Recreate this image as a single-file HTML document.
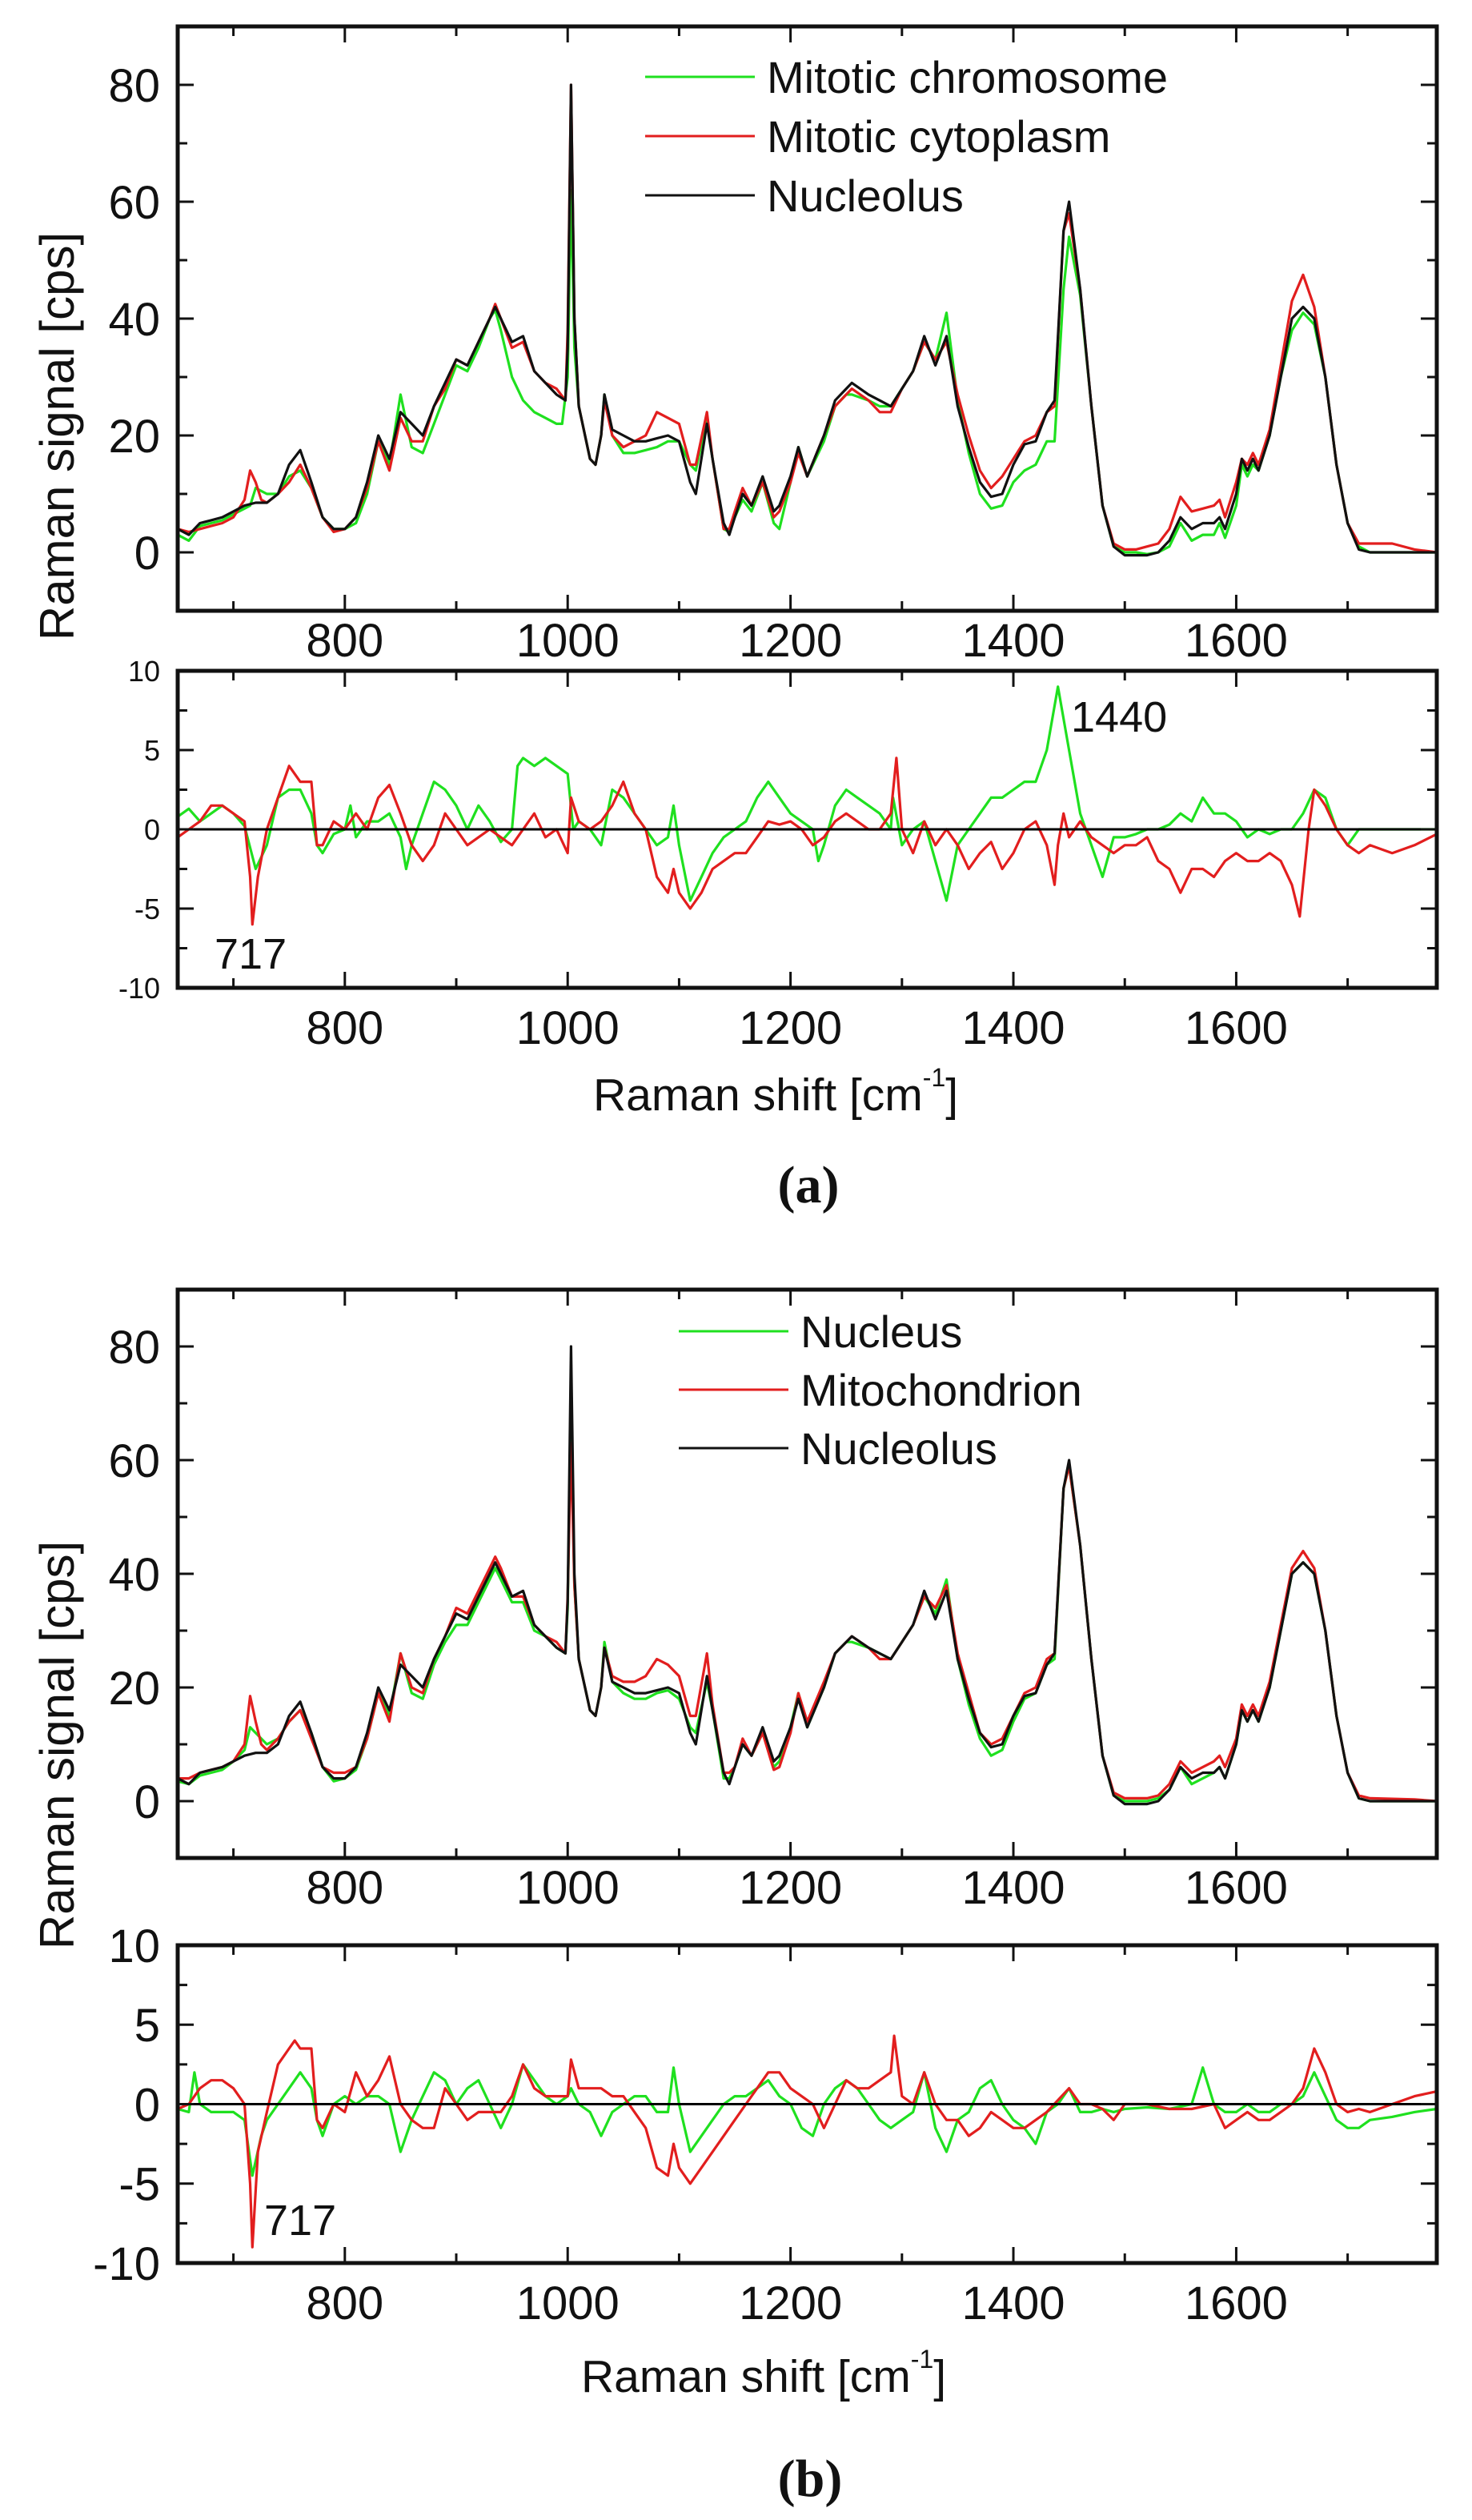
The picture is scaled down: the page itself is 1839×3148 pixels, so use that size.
<!DOCTYPE html>
<html><head><meta charset="utf-8">
<style>
html,body{margin:0;padding:0;background:#fff;}
svg{display:block;font-family:"Liberation Sans",sans-serif;}
</style></head>
<body>
<svg id="fig" width="1839" height="3148" viewBox="0 0 1839 3148" xmlns="http://www.w3.org/2000/svg"></svg>
<script>
// ---- Data (Raman shift cm-1, signal) ----
const xTicksMajor = [800,1000,1200,1400,1600];
const xTicksMinor = [700,900,1100,1300,1500,1700];
const yTicksSpec = [0,20,40,60,80];
const yTicksDiff = [-10,-5,0,5,10];

const nucleolus = [[650,4],[660,3],[670,5],[680,5.5],[690,6],[700,7],[710,8],[720,8.5],[730,8.5],[740,10],[750,15],[760,17.5],[770,12],[780,6],[790,4],[800,4],[810,6],[820,12],[830,20],[840,16],[850,24],[860,22],[870,20],[880,25],[890,29],[900,33],[910,32],[920,36],[930,40],[935,42],[940,40],[950,36],[960,37],[970,31],[980,29],[990,27],[998,26],[1000,35],[1003,80],[1006,40],[1010,25],[1020,16],[1025,15],[1030,20],[1033,27],[1040,21],[1050,20],[1060,19],[1070,19],[1080,19.5],[1090,20],[1100,19],[1110,12],[1115,10],[1125,22],[1130,16],[1140,5],[1145,3],[1150,6],[1157,10],[1165,8],[1175,13],[1185,7],[1190,8],[1200,13],[1207,18],[1215,13],[1230,20],[1240,26],[1250,28],[1255,29],[1270,27],[1280,26],[1290,25],[1300,28],[1310,31],[1320,37],[1330,32],[1340,37],[1350,25],[1360,18],[1370,12],[1380,9.5],[1390,10],[1400,15],[1410,18.5],[1420,19],[1430,24],[1437,26],[1445,55],[1450,60],[1460,45],[1470,25],[1480,8],[1490,1],[1500,-0.5],[1510,-0.5],[1520,-0.5],[1530,0],[1540,2],[1550,6],[1560,4],[1570,5],[1580,5],[1585,6],[1590,4],[1600,10],[1605,16],[1610,14],[1615,16],[1620,14],[1630,20],[1640,30],[1650,40],[1660,42],[1670,40],[1680,30],[1690,15],[1700,5],[1710,0.5],[1720,0],[1780,0]];

const chromosome = [[650,3],[660,2],[670,4.5],[680,5],[690,5.5],[700,6.5],[710,7.5],[715,8],[720,11],[730,10],[740,10],[750,13],[760,14],[770,11],[780,6],[790,4],[800,4],[810,5],[820,10],[830,19],[840,15],[850,27],[860,18],[870,17],[880,22],[890,27],[900,32],[910,31],[920,35],[930,40],[935,41.5],[940,38],[950,30],[960,26],[970,24],[980,23],[990,22],[995,22],[1000,30],[1003,62],[1006,35],[1010,25],[1020,16],[1025,15],[1030,20],[1033,27],[1040,20],[1050,17],[1060,17],[1070,17.5],[1080,18],[1090,19],[1100,19],[1110,15],[1115,14],[1125,23],[1130,16],[1140,4],[1145,3.5],[1150,6],[1157,9],[1165,7],[1175,12],[1185,5],[1190,4],[1200,12],[1207,18],[1215,13],[1230,19],[1240,25],[1250,27],[1255,27],[1270,26],[1280,25],[1290,25],[1300,28],[1310,31],[1320,36],[1330,33],[1340,41],[1350,26],[1360,17],[1370,10],[1380,7.5],[1390,8],[1400,12],[1410,14],[1420,15],[1430,19],[1437,19],[1445,45],[1450,54],[1460,44],[1470,25],[1480,8],[1490,1],[1500,0],[1510,0],[1520,-0.3],[1530,0],[1540,1],[1550,5],[1560,2],[1570,3],[1580,3],[1585,5],[1590,2.5],[1600,8],[1605,15],[1610,13],[1615,15],[1620,14],[1630,20],[1640,30],[1650,38],[1660,41],[1670,39],[1680,30],[1690,15],[1700,5],[1710,1],[1720,0],[1780,0]];

const cytoplasm = [[650,4],[660,3.5],[670,4],[680,4.5],[690,5],[700,6],[710,9],[715,14],[720,12],[725,9],[730,8.5],[740,10],[750,12],[760,15],[770,11],[780,6],[790,3.5],[800,4],[810,6],[820,11],[830,19],[840,14],[850,23],[860,19],[870,19],[880,25],[890,28],[900,33],[910,32],[920,36],[930,40],[935,42.5],[940,40],[950,35],[960,36],[970,31],[980,29],[990,28],[998,26],[1000,38],[1003,80],[1006,40],[1010,25],[1020,16],[1025,15],[1030,20],[1033,26],[1040,20],[1050,18],[1060,19],[1070,20],[1080,24],[1090,23],[1100,22],[1110,15],[1115,15],[1125,24],[1130,16],[1140,4],[1145,4],[1150,7],[1157,11],[1165,8],[1175,12],[1185,6],[1190,7],[1200,12],[1207,17],[1215,13],[1230,20],[1240,25],[1250,27],[1255,28],[1270,26],[1280,24],[1290,24],[1300,28],[1310,31],[1320,36],[1330,33],[1340,36],[1350,27],[1360,20],[1370,14],[1380,11],[1390,13],[1400,16],[1410,19],[1420,20],[1430,24],[1437,25],[1445,55],[1450,58],[1460,45],[1470,25],[1480,8],[1490,1.5],[1500,0.5],[1510,0.5],[1520,1],[1530,1.5],[1540,4],[1550,9.5],[1560,7],[1570,7.5],[1580,8],[1585,9],[1590,6],[1600,12],[1605,16],[1610,15],[1615,17],[1620,15],[1630,21],[1640,32],[1650,43],[1660,47.5],[1670,42],[1680,30],[1690,15],[1700,5],[1710,1.5],[1720,1.5],[1740,1.5],[1760,0.5],[1780,0]];

const nucleus = [[650,3.5],[660,3],[670,4.5],[680,5],[690,5.5],[700,7],[710,9],[715,13],[720,12],[730,10],[740,11],[750,14],[760,16],[770,12],[780,6],[790,3.5],[800,4],[810,5.5],[820,11],[830,19],[840,15],[850,26],[860,19],[870,18],[880,24],[890,28],[900,31],[910,31],[920,35],[930,39],[935,41],[940,39],[950,35],[960,35],[970,30],[980,29],[990,27],[998,26],[1000,34],[1003,70],[1006,38],[1010,25],[1020,16],[1025,15],[1030,20],[1033,28],[1040,21],[1050,19],[1060,18],[1070,18],[1080,19],[1090,19.5],[1100,18],[1110,13],[1115,12],[1125,21],[1130,16],[1140,4],[1145,4],[1150,6],[1157,10],[1165,8],[1175,12],[1185,6],[1190,7],[1200,13],[1207,19],[1215,13],[1230,20],[1240,26],[1250,28],[1255,28],[1270,27],[1280,26],[1290,25],[1300,28],[1310,31],[1320,36],[1330,33],[1340,39],[1350,25],[1360,17],[1370,11],[1380,8],[1390,9],[1400,14],[1410,18],[1420,19],[1430,24],[1437,25],[1445,55],[1450,59],[1460,45],[1470,25],[1480,8],[1490,1],[1500,0],[1510,0],[1520,0],[1530,0.5],[1540,2],[1550,6],[1560,3],[1570,4],[1580,5],[1585,6],[1590,4],[1600,10],[1605,16],[1610,14],[1615,16],[1620,14],[1630,20],[1640,30],[1650,40],[1660,42],[1670,40],[1680,30],[1690,15],[1700,5],[1710,0.5],[1720,0],[1780,0]];

const mitochondrion = [[650,4],[660,4],[670,5],[680,5.5],[690,6],[700,7],[710,10],[715,18.5],[720,14],[725,10],[730,9],[740,11],[750,14],[760,16],[770,11],[780,6],[790,5],[800,5],[810,6],[820,11],[830,19],[840,14],[850,26],[860,20],[870,19],[880,25],[890,29],[900,34],[910,33],[920,37],[930,41],[935,43],[940,41],[950,36],[960,36],[970,31],[980,29],[990,28],[998,26],[1000,36],[1003,63],[1006,38],[1010,25],[1020,16],[1025,15],[1030,20],[1033,27],[1040,22],[1050,21],[1060,21],[1070,22],[1080,25],[1090,24],[1100,22],[1110,15],[1115,15],[1125,26],[1130,17],[1140,5],[1145,5],[1150,6],[1157,11],[1165,8],[1175,12],[1185,5.5],[1190,6],[1200,12],[1207,19],[1215,14],[1230,21],[1240,26],[1250,28],[1255,29],[1270,27],[1280,25],[1290,25],[1300,28],[1310,31],[1320,36],[1330,34],[1340,38],[1350,26],[1360,19],[1370,12],[1380,10],[1390,11],[1400,15],[1410,19],[1420,20],[1430,25],[1437,26],[1445,55],[1450,59],[1460,45],[1470,25],[1480,8],[1490,1.5],[1500,0.5],[1510,0.5],[1520,0.5],[1530,1],[1540,3],[1550,7],[1560,5],[1570,6],[1580,7],[1585,8],[1590,6],[1600,11],[1605,17],[1610,15],[1615,17],[1620,15],[1630,21],[1640,31],[1650,41],[1660,44],[1670,41],[1680,30],[1690,15],[1700,5],[1710,1],[1720,0.5],[1760,0.3],[1780,0]];

const diffAGreen = [[650,0.8],[660,1.3],[670,0.5],[680,1],[690,1.5],[700,1],[710,0.2],[720,-2.5],[730,-1],[740,2],[750,2.5],[760,2.5],[770,1],[775,-1],[780,-1.5],[790,-0.3],[800,0],[805,1.5],[810,-0.5],[820,0.5],[830,0.5],[840,1],[850,-0.5],[855,-2.5],[860,-1],[870,1],[880,3],[890,2.5],[900,1.5],[910,0],[920,1.5],[930,0.5],[940,-0.8],[950,0],[955,4],[960,4.5],[970,4],[980,4.5],[990,4],[1000,3.5],[1005,0],[1010,0.5],[1020,0],[1030,-1],[1040,2.5],[1050,2],[1060,1],[1070,0],[1080,-1],[1090,-0.5],[1095,1.5],[1100,-1],[1110,-4.5],[1120,-3],[1130,-1.5],[1140,-0.5],[1150,0],[1160,0.5],[1170,2],[1180,3],[1190,2],[1200,1],[1210,0.5],[1220,0],[1225,-2],[1230,-1],[1240,1.5],[1250,2.5],[1260,2],[1270,1.5],[1280,1],[1290,0],[1292,2],[1300,-1],[1310,0],[1320,0.5],[1330,-2],[1340,-4.5],[1350,-1],[1360,0],[1370,1],[1380,2],[1390,2],[1400,2.5],[1410,3],[1420,3],[1430,5],[1440,9],[1450,5],[1460,1],[1470,-1],[1480,-3],[1490,-0.5],[1500,-0.5],[1510,-0.3],[1520,0],[1530,0],[1540,0.3],[1550,1],[1560,0.5],[1570,2],[1580,1],[1590,1],[1600,0.5],[1610,-0.5],[1620,0],[1630,-0.3],[1640,0],[1650,0],[1660,1],[1670,2.5],[1680,2],[1690,0],[1700,-1],[1710,0],[1780,0]];

const diffARed = [[650,-0.5],[660,0],[670,0.5],[680,1.5],[690,1.5],[700,1],[710,0.5],[715,-3],[717,-6],[722,-3],[730,0],[740,2],[750,4],[760,3],[770,3],[775,-1],[780,-1],[790,0.5],[800,0],[810,1],[820,0],[830,2],[840,2.8],[850,1],[860,-1],[870,-2],[880,-1],[890,1],[900,0],[910,-1],[920,-0.5],[930,0],[940,-0.5],[950,-1],[960,0],[970,1],[980,-0.5],[990,0],[1000,-1.5],[1003,2],[1010,0.5],[1020,0],[1030,0.5],[1040,1.5],[1050,3],[1060,1],[1070,0],[1080,-3],[1090,-4],[1095,-2.5],[1100,-4],[1110,-5],[1120,-4],[1130,-2.5],[1140,-2],[1150,-1.5],[1160,-1.5],[1170,-0.5],[1180,0.5],[1190,0.3],[1200,0.5],[1210,0],[1220,-1],[1230,-0.5],[1240,0.5],[1250,1],[1260,0.5],[1270,0],[1280,0],[1290,1],[1295,4.5],[1300,0],[1310,-1.5],[1320,0.5],[1330,-1],[1340,0],[1350,-1],[1360,-2.5],[1370,-1.5],[1380,-0.8],[1390,-2.5],[1400,-1.5],[1410,0],[1420,0.5],[1430,-1],[1437,-3.5],[1440,-1],[1445,1],[1450,-0.5],[1460,0.5],[1470,-0.5],[1480,-1],[1490,-1.5],[1500,-1],[1510,-1],[1520,-0.5],[1530,-2],[1540,-2.5],[1550,-4],[1560,-2.5],[1570,-2.5],[1580,-3],[1590,-2],[1600,-1.5],[1610,-2],[1620,-2],[1630,-1.5],[1640,-2],[1650,-3.5],[1657,-5.5],[1665,0],[1670,2.5],[1680,1.5],[1690,0],[1700,-1],[1710,-1.5],[1720,-1],[1740,-1.5],[1760,-1],[1780,-0.3]];

const diffBGreen = [[650,-0.3],[660,-0.5],[665,2],[670,0],[680,-0.5],[690,-0.5],[700,-0.5],[710,-1],[717,-4.5],[725,-2],[730,-1],[740,0],[750,1],[760,2],[770,1],[775,-1],[780,-2],[790,0],[800,0.5],[810,0],[820,0.5],[830,0.5],[840,0],[850,-3],[860,-1],[870,0.5],[880,2],[890,1.5],[900,0],[910,1],[920,1.5],[930,0],[940,-1.5],[950,0],[960,2.5],[970,1.5],[980,0.5],[990,0],[1000,0.5],[1003,1],[1010,0],[1020,-0.5],[1030,-2],[1040,-0.5],[1050,0],[1060,0.5],[1070,0.5],[1080,-0.5],[1090,-0.5],[1095,2.3],[1100,0],[1110,-3],[1120,-2],[1130,-1],[1140,0],[1150,0.5],[1160,0.5],[1170,1],[1180,1.5],[1190,0.5],[1200,0],[1210,-1.5],[1220,-2],[1230,0],[1240,1],[1250,1.5],[1260,1],[1270,0],[1280,-1],[1290,-1.5],[1300,-1],[1310,-0.5],[1320,2],[1330,-1.5],[1340,-3],[1350,-1],[1360,-0.5],[1370,1],[1380,1.5],[1390,0],[1400,-1],[1410,-1.5],[1420,-2.5],[1430,-0.5],[1440,0],[1450,1],[1460,-0.5],[1470,-0.5],[1480,-0.3],[1490,-0.5],[1500,-0.3],[1520,-0.2],[1540,-0.3],[1560,0],[1570,2.3],[1580,0],[1590,-0.5],[1600,-0.5],[1610,0],[1620,-0.5],[1630,-0.5],[1640,0],[1650,0],[1660,0.5],[1670,2],[1680,0.5],[1690,-1],[1700,-1.5],[1710,-1.5],[1720,-1],[1740,-0.8],[1760,-0.5],[1780,-0.3]];

const diffBRed = [[650,-0.3],[660,0],[670,1],[680,1.5],[690,1.5],[700,1],[710,0],[715,-5],[717,-9],[722,-3],[730,-0.5],[740,2.5],[750,3.5],[755,4],[760,3.5],[770,3.5],[775,-1],[780,-1.5],[790,0],[800,-0.5],[810,2],[820,0.5],[830,1.5],[840,3],[850,0],[860,-1],[870,-1.5],[880,-1.5],[890,1],[900,0],[910,-1],[920,-0.5],[930,-0.5],[940,-0.5],[950,0.5],[960,2.5],[970,1],[980,0.5],[990,0.5],[1000,0.5],[1003,2.8],[1010,1],[1020,1],[1030,1],[1040,0.5],[1050,0.5],[1060,-0.5],[1070,-1.5],[1080,-4],[1090,-4.5],[1095,-2.5],[1100,-4],[1110,-5],[1120,-4],[1130,-3],[1140,-2],[1150,-1],[1160,0],[1170,1],[1180,2],[1190,2],[1200,1],[1210,0.5],[1220,0],[1230,-1.5],[1240,0],[1250,1.5],[1260,1],[1270,1],[1280,1.5],[1290,2],[1293,4.3],[1300,0.5],[1310,0],[1320,2],[1330,0],[1340,-1],[1350,-1],[1360,-2],[1370,-1.5],[1380,-0.5],[1390,-1],[1400,-1.5],[1410,-1.5],[1420,-1],[1430,-0.5],[1450,1],[1460,0],[1470,0],[1480,-0.3],[1490,-1],[1500,0],[1520,0],[1540,-0.3],[1560,-0.3],[1580,0],[1590,-1.5],[1600,-1],[1610,-0.5],[1620,-1],[1630,-1],[1640,-0.5],[1650,0],[1660,1],[1670,3.5],[1680,2],[1690,0],[1700,-0.5],[1710,-0.3],[1720,-0.5],[1740,0],[1760,0.5],[1780,0.8]];

// ---- Drawing ----
const NS = "http://www.w3.org/2000/svg";
const svg = document.getElementById('fig');
const GREEN = "#1fe01f", RED = "#e21e1e", BLACK = "#111";
const X0 = 650, X1 = 1780, PL = 222, PR = 1795;
function xs(v){ return PL + (v - X0) / (X1 - X0) * (PR - PL); }
function mk(tag, attrs, parent){
  const e = document.createElementNS(NS, tag);
  for (const k in attrs) e.setAttribute(k, attrs[k]);
  (parent || svg).appendChild(e);
  return e;
}
function panel(name, top, bottom, yMin, yMax, yMajor, yMinorStep, labelSize, series, zeroLine, xLabOff){
  const g = mk('g', {});
  
  
  const ys = v => bottom - (v - yMin) / (yMax - yMin) * (bottom - top);
  series.forEach(s => {
    const d = s.data.map((p, i) => (i ? 'L' : 'M') + xs(p[0]).toFixed(1) + ' ' + ys(p[1]).toFixed(1)).join(' ');
    const path = mk('path', {d: d, fill: 'none', stroke: s.color, 'stroke-width': 3.2, 'stroke-linejoin': 'round'}, g);
    
    
  });
  if (zeroLine){
    const z = mk('line', {x1: PL, x2: PR, y1: ys(0), y2: ys(0), stroke: '#000', 'stroke-width': 3}, g);
    
    
  }
  const fr = mk('rect', {x: PL, y: top, width: PR - PL, height: bottom - top, fill: 'none', stroke: '#111', 'stroke-width': 5}, g);
  
  
  xTicksMajor.concat(xTicksMinor).forEach(t => {
    const len = xTicksMajor.includes(t) ? 20 : 12;
    mk('line', {x1: xs(t), x2: xs(t), y1: bottom, y2: bottom - len, stroke: '#111', 'stroke-width': 3}, g);
    mk('line', {x1: xs(t), x2: xs(t), y1: top, y2: top + len, stroke: '#111', 'stroke-width': 3}, g);
  });
  xTicksMajor.forEach(t => {
    const tl = mk('text', {x: xs(t), y: bottom + xLabOff, 'font-size': 58, 'text-anchor': 'middle', fill: '#111'}, g);
    tl.textContent = t;
    
    
  });
  for (let v = yMin; v <= yMax + 1e-6; v += yMinorStep){
    const major = yMajor.includes(v);
    const len = major ? 20 : 12;
    if (v === yMin || v === yMax) continue;
    mk('line', {x1: PL, x2: PL + len, y1: ys(v), y2: ys(v), stroke: '#111', 'stroke-width': 3}, g);
    mk('line', {x1: PR, x2: PR - len, y1: ys(v), y2: ys(v), stroke: '#111', 'stroke-width': 3}, g);
  }
  yMajor.forEach(v => {
    const tl = mk('text', {x: 200, y: ys(v) + labelSize * 0.36, 'font-size': labelSize, 'text-anchor': 'end', fill: '#111'}, g);
    tl.textContent = v;
    
    
  });
  return ys;
}
function text(name, x, y, size, str, extra){
  const t = mk('text', Object.assign({x: x, y: y, 'font-size': size, fill: '#111'}, extra || {}));
  t.textContent = str;
  
  
  return t;
}
function xTitle(name, x, y){
  const t = mk('text', {x: x, y: y, 'font-size': 57, fill: '#111'});
  
  
  const a = mk('tspan', {}, t); a.textContent = 'Raman shift [cm';
  const b = mk('tspan', {dy: -30, 'font-size': 32}, t); b.textContent = '-1';
  const c = mk('tspan', {dy: 30}, t); c.textContent = ']';
}
function legend(name, x, y0, gap, items){
  const g = mk('g', {});
  
  
  items.forEach((it, i) => {
    const y = y0 + i * gap;
    mk('line', {x1: x, x2: x + 137, y1: y, y2: y, stroke: it.color, 'stroke-width': 3}, g);
    const t = mk('text', {x: x + 152, y: y + 20, 'font-size': 56, fill: '#111'}, g);
    t.textContent = it.label;
    
    
  });
}

// Panel (a)
panel('spectra-panel-a', 33, 763, -10, 90, yTicksSpec, 10, 58,
  [{name:'mitotic-chromosome-line', color:GREEN, data:chromosome},
   {name:'mitotic-cytoplasm-line', color:RED, data:cytoplasm},
   {name:'nucleolus-line-a', color:BLACK, data:nucleolus}], false, 57);
legend('legend-a', 806, 96, 74, [{color:GREEN,label:'Mitotic chromosome'},{color:RED,label:'Mitotic cytoplasm'},{color:BLACK,label:'Nucleolus'}]);
panel('difference-panel-a', 838, 1234, -10, 10, yTicksDiff, 2.5, 36,
  [{name:'chromosome-difference-line', color:GREEN, data:diffAGreen},
   {name:'cytoplasm-difference-line', color:RED, data:diffARed}], true, 70);
text('annotation-1440', 1338, 914, 54, '1440');
text('annotation-717-a', 268, 1210, 54, '717');
xTitle('x-axis-title-a', 741, 1387);
text('panel-label-a', 1010, 1502, 66, '(a)', {'text-anchor':'middle','font-family':'Liberation Serif, serif','font-weight':'bold'});
text('y-axis-title-a', 92, 545, 60, 'Raman signal [cps]', {'text-anchor':'middle','transform':'rotate(-90 92 545)'});

// Panel (b)
panel('spectra-panel-b', 1611, 2321, -10, 90, yTicksSpec, 10, 58,
  [{name:'nucleus-line', color:GREEN, data:nucleus},
   {name:'mitochondrion-line', color:RED, data:mitochondrion},
   {name:'nucleolus-line-b', color:BLACK, data:nucleolus}], false, 57);
legend('legend-b', 848, 1663, 73, [{color:GREEN,label:'Nucleus'},{color:RED,label:'Mitochondrion'},{color:BLACK,label:'Nucleolus'}]);
panel('difference-panel-b', 2430, 2827, -10, 10, yTicksDiff, 2.5, 58,
  [{name:'nucleus-difference-line', color:GREEN, data:diffBGreen},
   {name:'mitochondrion-difference-line', color:RED, data:diffBRed}], true, 70);
text('annotation-717-b', 330, 2792, 54, '717');
xTitle('x-axis-title-b', 726, 2988);
text('panel-label-b', 1012, 3118, 66, '(b)', {'text-anchor':'middle','font-family':'Liberation Serif, serif','font-weight':'bold'});
text('y-axis-title-b', 92, 2180, 60, 'Raman signal [cps]', {'text-anchor':'middle','transform':'rotate(-90 92 2180)'});
</script>
</body></html>
